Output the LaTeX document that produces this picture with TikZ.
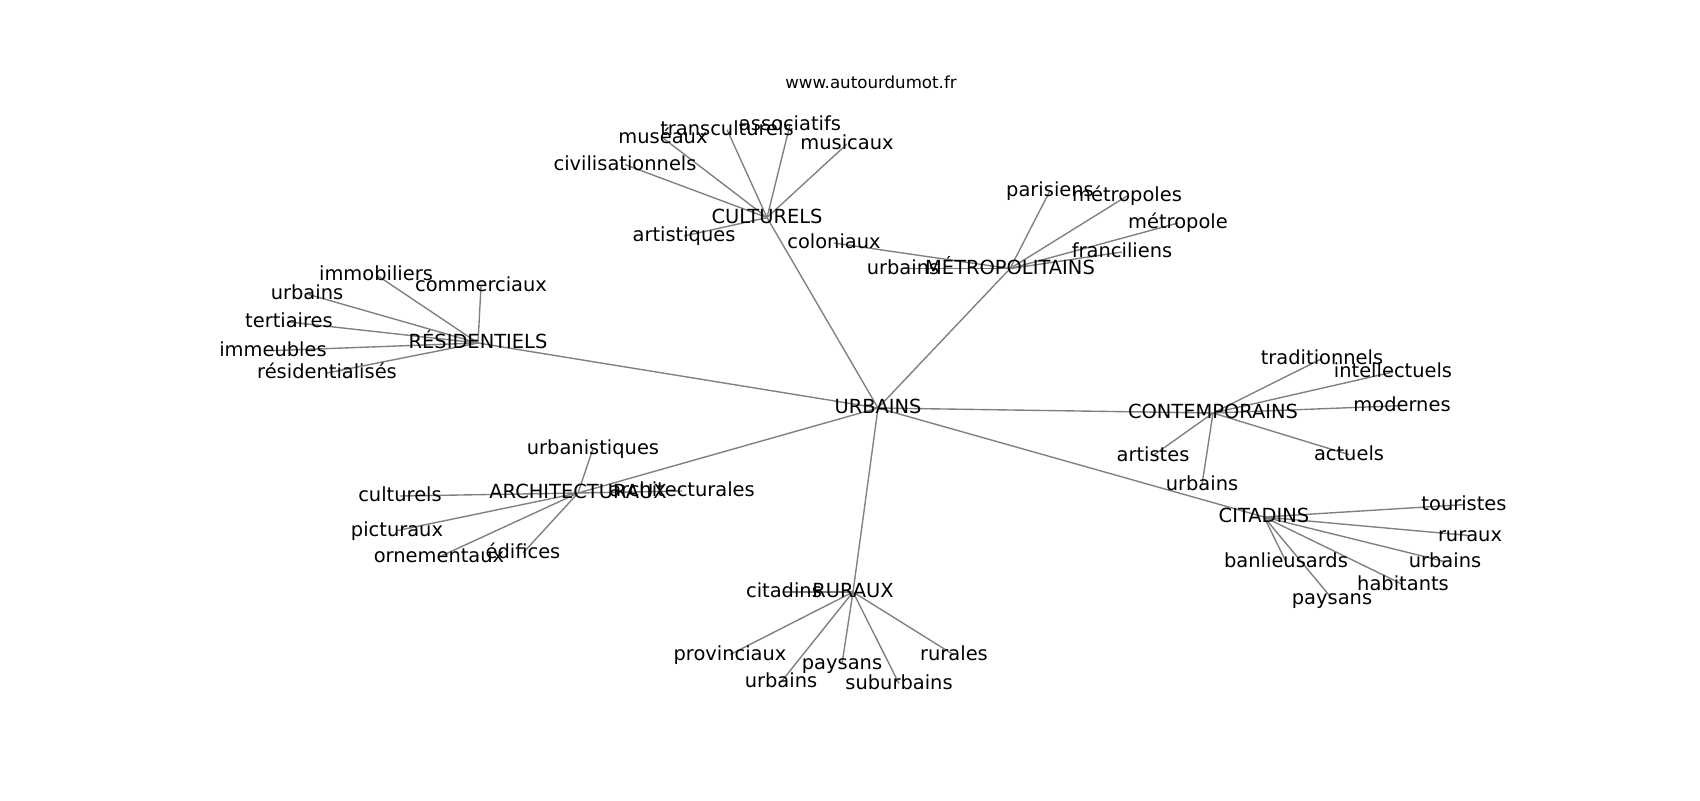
\documentclass[tikz,border=0pt]{standalone}
\usepackage{fontspec}
\setmainfont{DejaVu Sans}
\usetikzlibrary{backgrounds}
\tikzset{
  x=0.5pt, y=-0.5pt,
  lbl/.style={inner sep=0pt, outer sep=0pt, anchor=center, text height=0.76em, text depth=0.208em, font=\fontsize{9.72}{11}\selectfont, text=black},
  ttl/.style={inner sep=0pt, anchor=center, text height=0.76em, text depth=0.208em, font=\fontsize{8.33}{10}\selectfont, text=black},
  edge/.style={draw=black!50, line width=0.69pt}
}
\begin{document}
\begin{tikzpicture}
\useasboundingbox (0,0) rectangle (1700,800);
\node[ttl] (title) at (871,83.4) {www.autourdumot.fr};
% hubs
\node[lbl] (U) at (878,408) {URBAINS};
\node[lbl] (CU) at (767,217.6) {CULTURELS};
\node[lbl] (ME) at (1010,268.6) {MÉTROPOLITAINS};
\node[lbl] (RE) at (478,343) {RÉSIDENTIELS};
\node[lbl] (AR) at (578,493) {ARCHITECTURAUX};
\node[lbl] (CO) at (1213,413) {CONTEMPORAINS};
\node[lbl] (CI) at (1264,517) {CITADINS};
\node[lbl] (RU) at (853,592) {RURAUX};
% CULTURELS leaves
\node[lbl] (cu1) at (790,124.6) {associatifs};
\node[lbl] (cu2) at (727,129.6) {transculturels};
\node[lbl] (cu3) at (663,138) {muséaux};
\node[lbl] (cu4) at (847,144) {musicaux};
\node[lbl] (cu5) at (625,164.6) {civilisationnels};
\node[lbl] (cu6) at (684,236) {artistiques};
% METROPOLITAINS leaves
\node[lbl] (me1) at (1050,190.6) {parisiens};
\node[lbl] (me2) at (1127,196) {métropoles};
\node[lbl] (me3) at (1178,223) {métropole};
\node[lbl] (me4) at (1122,252) {franciliens};
\node[lbl] (me5) at (903,268.6) {urbains};
\node[lbl] (me6) at (834,243) {coloniaux};
% RESIDENTIELS leaves
\node[lbl] (re1) at (376,274.6) {immobiliers};
\node[lbl] (re2) at (481,286) {commerciaux};
\node[lbl] (re3) at (307,294) {urbains};
\node[lbl] (re4) at (289,322) {tertiaires};
\node[lbl] (re5) at (273,350.6) {immeubles};
\node[lbl] (re6) at (327,373) {résidentialisés};
% ARCHITECTURAUX leaves
\node[lbl] (ar1) at (593,448.6) {urbanistiques};
\node[lbl] (ar2) at (400,496) {culturels};
\node[lbl] (ar3) at (682,491) {architecturales};
\node[lbl] (ar4) at (397,530.6) {picturaux};
\node[lbl] (ar5) at (439,557) {ornementaux};
\node[lbl] (ar6) at (523,553) {édifices};
% CONTEMPORAINS leaves
\node[lbl] (co1) at (1322,358.6) {traditionnels};
\node[lbl] (co2) at (1393,372) {intellectuels};
\node[lbl] (co3) at (1402,405.6) {modernes};
\node[lbl] (co4) at (1153,455.6) {artistes};
\node[lbl] (co5) at (1349,454.6) {actuels};
\node[lbl] (co6) at (1202,484.6) {urbains};
% CITADINS leaves
\node[lbl] (ci1) at (1464,504.6) {touristes};
\node[lbl] (ci2) at (1470,535.6) {ruraux};
\node[lbl] (ci3) at (1286,561.6) {banlieusards};
\node[lbl] (ci4) at (1445,561.6) {urbains};
\node[lbl] (ci5) at (1403,584.6) {habitants};
\node[lbl] (ci6) at (1332,598.6) {paysans};
% RURAUX leaves
\node[lbl] (ru1) at (784,592) {citadins};
\node[lbl] (ru2) at (730,654.6) {provinciaux};
\node[lbl] (ru3) at (954,655) {rurales};
\node[lbl] (ru4) at (842,663.6) {paysans};
\node[lbl] (ru5) at (781,682) {urbains};
\node[lbl] (ru6) at (899,683.6) {suburbains};
\begin{scope}[on background layer]
\fill[white] (0,0) rectangle (1700,800);
\foreach \h in {CU,ME,RE,AR,CO,CI,RU}
  \draw[edge] (U.center) -- (\h.center);
\foreach \l in {cu1,cu2,cu3,cu4,cu5,cu6}
  \draw[edge] (CU.center) -- (\l.center);
\foreach \l in {me1,me2,me3,me4,me5,me6}
  \draw[edge] (ME.center) -- (\l.center);
\foreach \l in {re1,re2,re3,re4,re5,re6}
  \draw[edge] (RE.center) -- (\l.center);
\foreach \l in {ar1,ar2,ar3,ar4,ar5,ar6}
  \draw[edge] (AR.center) -- (\l.center);
\foreach \l in {co1,co2,co3,co4,co5,co6}
  \draw[edge] (CO.center) -- (\l.center);
\foreach \l in {ci1,ci2,ci3,ci4,ci5,ci6}
  \draw[edge] (CI.center) -- (\l.center);
\foreach \l in {ru1,ru2,ru3,ru4,ru5,ru6}
  \draw[edge] (RU.center) -- (\l.center);
\end{scope}
\end{tikzpicture}
\end{document}
